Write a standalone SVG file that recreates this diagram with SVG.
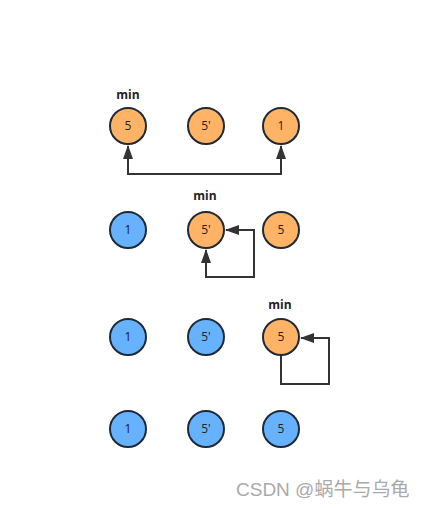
<svg xmlns="http://www.w3.org/2000/svg" width="423" height="508" viewBox="0 0 423 508">
<style>
.o{fill:#FFB366;stroke:#1f2a36;stroke-width:2}
.b{fill:#66B2FF;stroke:#1f2a36;stroke-width:2}
.t{font-family:"Open Sans","DejaVu Sans",sans-serif;font-size:12px;fill:#222;text-anchor:middle}
.m{font-family:"Open Sans","DejaVu Sans",sans-serif;font-size:12px;font-weight:bold;fill:#222;text-anchor:middle}
.c{fill:none;stroke:#333;stroke-width:2}
</style>
<defs>
<marker id="a" viewBox="0 0 14 10" refX="13" refY="5" markerWidth="14" markerHeight="10" markerUnits="userSpaceOnUse" orient="auto-start-reverse">
<path d="M0,0 L14,5 L0,10 z" fill="#333"/>
</marker>
</defs>
<rect width="423" height="508" fill="#fff"/>
<g id="connectors">
<path class="c" d="M128,146 V174 H281 V146" marker-start="url(#a)" marker-end="url(#a)"/>
<path class="c" d="M206,250 V277 H254 V230 H226" marker-start="url(#a)" marker-end="url(#a)"/>
<path class="c" d="M281,356 V384 H329 V338 H301" marker-end="url(#a)"/>
</g>
<g id="label-min-1"><text class="m" x="128" y="99">min</text></g>
<g id="n1-1"><circle class="o" cx="128" cy="126" r="18"/><text class="t" x="128" y="130">5</text></g>
<g id="n1-2"><circle class="o" cx="206" cy="126" r="18"/><text class="t" x="206" y="130">5'</text></g>
<g id="n1-3"><circle class="o" cx="281" cy="126" r="18"/><text class="t" x="281" y="130">1</text></g>
<g id="label-min-2"><text class="m" x="205" y="200">min</text></g>
<g id="n2-1"><circle class="b" cx="128" cy="230" r="18"/><text class="t" x="128" y="234">1</text></g>
<g id="n2-2"><circle class="o" cx="206" cy="230" r="18"/><text class="t" x="206" y="234">5'</text></g>
<g id="n2-3"><circle class="o" cx="281" cy="230" r="18"/><text class="t" x="281" y="234">5</text></g>
<g id="label-min-3"><text class="m" x="280" y="309">min</text></g>
<g id="n3-1"><circle class="b" cx="128" cy="337" r="18"/><text class="t" x="128" y="341">1</text></g>
<g id="n3-2"><circle class="b" cx="206" cy="337" r="18"/><text class="t" x="206" y="341">5'</text></g>
<g id="n3-3"><circle class="o" cx="281" cy="337" r="18"/><text class="t" x="281" y="341">5</text></g>
<g id="n4-1"><circle class="b" cx="128" cy="429" r="18"/><text class="t" x="128" y="433">1</text></g>
<g id="n4-2"><circle class="b" cx="206" cy="429" r="18"/><text class="t" x="206" y="433">5'</text></g>
<g id="n4-3"><circle class="b" cx="281" cy="429" r="18"/><text class="t" x="281" y="433">5</text></g>
<text x="236" y="496" font-family="'Liberation Sans','Noto Sans CJK SC',sans-serif" font-size="19" fill="#aaa">CSDN @蜗牛与乌龟</text>
</svg>
